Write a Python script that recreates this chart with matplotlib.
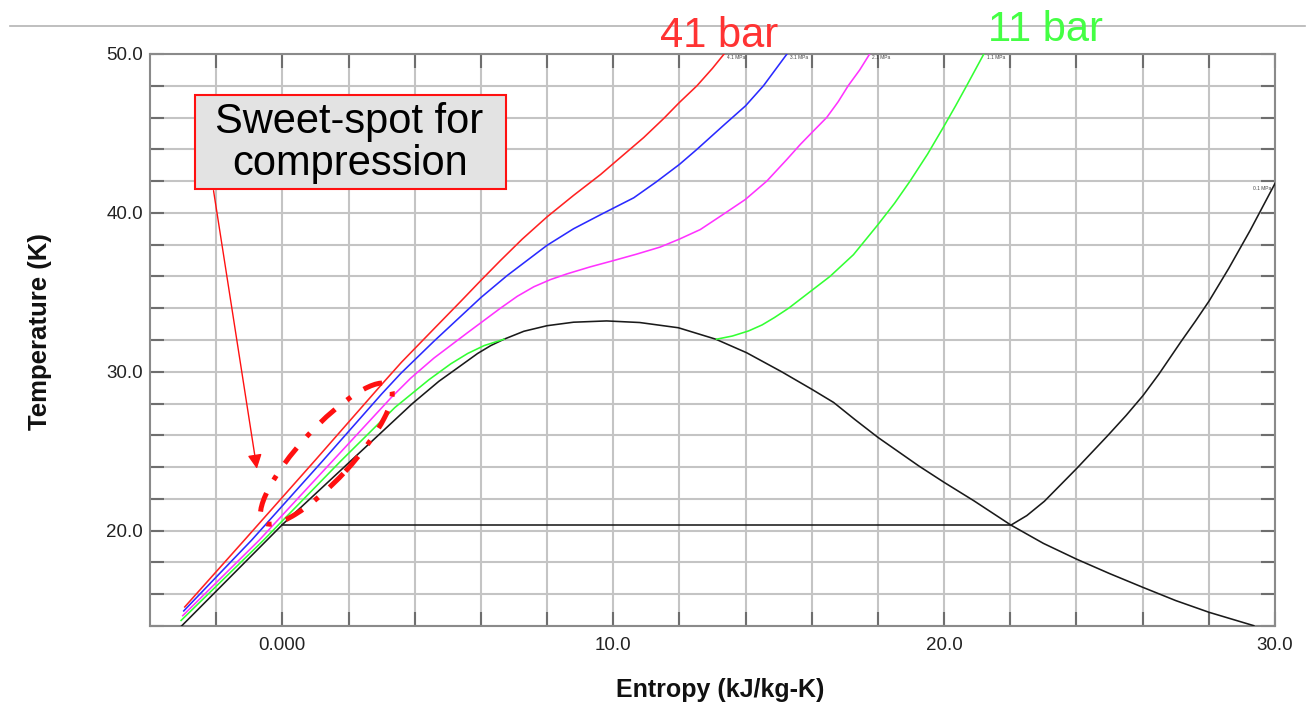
import numpy as np
import matplotlib
matplotlib.use('Agg')
import matplotlib.pyplot as plt
import matplotlib.transforms as mtransforms
from matplotlib.patches import Ellipse, Rectangle
from matplotlib.lines import Line2D
from matplotlib.ticker import FixedLocator, FuncFormatter

plt.rcParams['font.family'] = ['Liberation Sans', 'DejaVu Sans']

# ---------------- data (entropy s [kJ/kg-K], temperature T [K]) ----------------
red_s = [-2.95, -1.15, 1.0, 3.0, 3.6, 4.58, 5.4, 6.0, 6.59, 7.25, 8.0, 8.8, 9.62, 10.0,
         10.92, 11.53, 12.0, 12.53, 13.0, 13.35]
red_T = [15.2, 19.4, 24.45, 29.2, 30.6, 32.7, 34.45, 35.75, 37.0, 38.35, 39.75, 41.1, 42.42, 43.1,
         44.74, 45.95, 46.95, 48.0, 49.1, 50.0]

blue_s = [-2.98, -0.93, 1.2, 3.0, 3.58, 4.58, 6.0, 6.79, 8.0, 8.8, 9.62, 10.62, 11.3, 12.0,
          12.53, 13.34, 14.0, 14.54, 15.25]
blue_T = [14.95, 19.4, 24.35, 28.6, 29.9, 31.92, 34.67, 36.05, 37.96, 39.0, 39.89, 40.95, 41.95, 43.05,
          44.0, 45.52, 46.74, 48.0, 50.0]

mag_s = [-3.01, -0.70, 1.5, 3.3, 3.88, 4.58, 5.59, 6.59, 7.1, 7.6, 8.1, 8.6, 9.3, 10.01, 10.7,
         11.42, 12.0, 12.63, 13.39, 13.99, 14.64, 15.25, 15.65, 16.0, 16.45, 16.8, 17.1, 17.45, 17.75]
mag_T = [14.65, 19.4, 24.35, 28.4, 29.6, 30.86, 32.45, 34.0, 34.75, 35.35, 35.8, 36.16, 36.6, 37.0, 37.4,
         37.85, 38.35, 38.95, 40.0, 40.84, 42.0, 43.37, 44.3, 45.05, 46.0, 47.0, 48.0, 49.0, 50.0]

green_liq_s = [-3.06, -0.57, 1.75, 3.4, 4.43, 5.09, 5.6, 6.1, 6.7]
green_liq_T = [14.35, 19.4, 24.35, 27.75, 29.5, 30.5, 31.15, 31.65, 32.05]
green_vap_s = [13.12, 13.6, 14.09, 14.5, 14.87, 15.3, 16.0, 16.55, 17.26, 18.0, 18.5, 18.97,
               19.5, 20.0, 20.35, 20.68, 21.2]
green_vap_T = [32.05, 32.25, 32.57, 32.95, 33.41, 34.0, 35.12, 36.0, 37.37, 39.26, 40.6, 42.0,
               43.7, 45.47, 46.75, 48.0, 50.0]

dome_s = [-3.06, 0.0, 2.0, 3.93, 4.73, 5.3, 5.9, 6.3, 6.7, 7.3, 8.0, 8.8, 9.8, 10.8, 11.97, 13.1,
          14.03, 15.09, 16.0, 16.66, 17.3, 18.0, 19.23, 20.0, 20.9, 22.02, 23.0, 24.0, 25.0, 26.01,
          27.0, 28.01, 29.36]
dome_T = [13.97, 20.38, 24.26, 28.0, 29.4, 30.25, 31.15, 31.65, 32.05, 32.55, 32.9, 33.12, 33.2, 33.1,
          32.77, 32.05, 31.2, 30.0, 28.9, 28.07, 27.0, 25.87, 24.08, 23.04, 21.88, 20.35, 19.2,
          18.21, 17.3, 16.43, 15.6, 14.86, 14.02]

p01_flat_s = [0.0, 22.02]
p01_flat_T = [20.35, 20.35]
p01_vap_s = [22.02, 22.5, 23.03, 24.0, 24.93, 25.5, 26.01, 26.49, 27.16, 27.6, 28.01, 28.6, 29.25, 30.0]
p01_vap_T = [20.35, 20.95, 21.85, 23.9, 25.95, 27.25, 28.5, 29.85, 31.9, 33.2, 34.46, 36.5, 38.9, 41.85]

isobar_labels = ['4.1 MPa', '3.1 MPa', '2.1 MPa', '1.1 MPa', '0.1 MPa']
x_ticklabels = {0: '0.000', 10: '10.0', 20: '20.0', 30: '30.0'}
y_ticklabels = {20: '20.0', 30: '30.0', 40: '40.0', 50: '50.0'}

RED, BLUE, MAG, GREEN, BLACK = '#ff2222', '#2a2aff', '#ff33ff', '#33ff33', '#1a1a1a'

W, H = 1312, 705
fig = plt.figure(figsize=(W / 100, H / 100), dpi=100)
fig.patch.set_facecolor('white')

def fx(px):
    return px / W

def fy(py):
    return 1 - py / H

ax = fig.add_axes([fx(150), fy(626), (1275 - 150) / W, (626 - 54) / H])
ax.set_xlim(-4, 30)
ax.set_ylim(14, 50)

ax.xaxis.set_major_locator(FixedLocator(np.arange(-2, 31, 2)))
ax.yaxis.set_major_locator(FixedLocator(np.arange(14, 51, 2)))
ax.xaxis.set_major_formatter(FuncFormatter(lambda v, p: x_ticklabels.get(int(round(v)), '')))
ax.yaxis.set_major_formatter(FuncFormatter(lambda v, p: y_ticklabels.get(int(round(v)), '')))
ax.grid(True, color='#c4c4c4', lw=1.5, zorder=0)
ax.set_axisbelow(True)
ax.tick_params(direction='in', length=10, width=1.5, color='#6e6e6e',
               top=True, right=True, labelsize=13.5, labelcolor='#222222')
ax.tick_params(axis='x', pad=8)
ax.tick_params(axis='y', pad=5)
for sp in ax.spines.values():
    sp.set_color('#8a8a8a')
    sp.set_linewidth(1.5)

lw = 1.15
kw = dict(lw=lw, zorder=3, solid_joinstyle='round')
ax.plot(dome_s, dome_T, color=BLACK, **kw)
ax.plot(p01_flat_s, p01_flat_T, color=BLACK, **kw)
ax.plot(p01_vap_s, p01_vap_T, color=BLACK, **kw)
ax.plot(green_liq_s, green_liq_T, color=GREEN, **kw)
ax.plot(green_vap_s, green_vap_T, color=GREEN, **kw)
ax.plot(mag_s, mag_T, color=MAG, **kw)
ax.plot(blue_s, blue_T, color=BLUE, **kw)
ax.plot(red_s, red_T, color=RED, **kw)

# isobar labels at curve ends
ends = [(red_s[-1], red_T[-1]), (blue_s[-1], blue_T[-1]), (mag_s[-1], mag_T[-1]),
        (green_vap_s[-1], green_vap_T[-1])]
for (xe, ye), lab in zip(ends, isobar_labels[:4]):
    ax.annotate(lab, xy=(xe, ye), xytext=(2, -1), textcoords='offset points',
                ha='left', va='top', fontsize=3.5, color='#444444', zorder=4)
ax.annotate(isobar_labels[4], xy=(p01_vap_s[-1], p01_vap_T[-1]), xytext=(-3, -2),
            textcoords='offset points', ha='right', va='top', fontsize=3.5,
            color='#444444', zorder=4)

# dash-dot ellipse (sweet spot)
trans = fig.dpi_scale_trans + mtransforms.ScaledTranslation(1.33, 24.85, ax.transData)
ell = Ellipse((0, 0), width=1.86, height=0.52, angle=47.3, transform=trans,
              fill=False, edgecolor='#ff1010', lw=3.6, linestyle=(0, (3.9, 3.0, 1.0, 3.0)),
              zorder=6, clip_on=False)
ax.add_patch(ell)

# arrow from box to the sweet spot
ax.annotate('', xy=(-0.77, 23.9), xytext=(-2.08, 41.4),
            arrowprops=dict(arrowstyle='-|>,head_length=0.5,head_width=0.25',
                            color='#ff1010', lw=1.0, mutation_scale=17,
                            shrinkA=0, shrinkB=0), zorder=5)

# axis titles
fig.text(fx(720), fy(690), 'Entropy (kJ/kg-K)', ha='center', va='center',
         fontsize=18, fontweight='bold', color='#111111')
fig.text(fx(40), fy(332), 'Temperature (K)', ha='center', va='center', rotation=90,
         fontsize=18.5, fontweight='bold', color='#111111')

# slide separator line and big labels
fig.add_artist(Line2D([fx(10), fx(1305)], [fy(26), fy(26)], color='#b4b4b4', lw=1.2, zorder=1))
fig.text(fx(719), fy(47), '41 bar', ha='center', va='baseline', fontsize=30,
         color='#ff3333', zorder=3)
fig.text(fx(1045), fy(41), '11 bar', ha='center', va='baseline', fontsize=30,
         color='#44ff44', zorder=3)

# annotation box
box = Rectangle((fx(195), fy(189)), fx(506) - fx(195), fy(95) - fy(189),
                transform=fig.transFigure, facecolor='#e3e3e3', edgecolor='#ff1010',
                lw=1.5, zorder=5)
fig.add_artist(box)
fig.text(fx(349), fy(133), 'Sweet-spot for', ha='center', va='baseline', fontsize=30,
         color='black', zorder=6)
fig.text(fx(350), fy(175), 'compression', ha='center', va='baseline', fontsize=30,
         color='black', zorder=6)

fig.savefig('out.png', dpi=100, facecolor='white')
